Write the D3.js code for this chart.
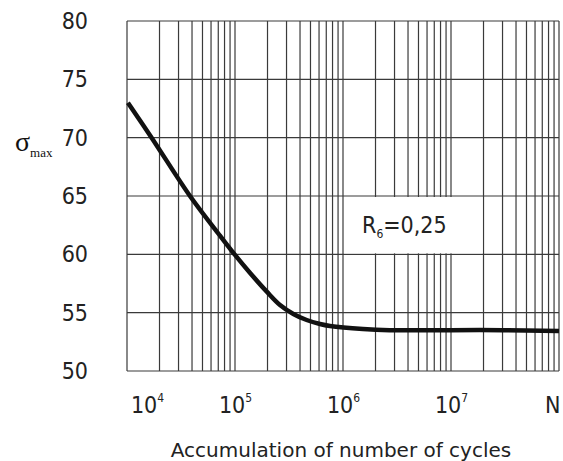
<!DOCTYPE html>
<html>
<head>
<meta charset="utf-8">
<script src="https://cdn.jsdelivr.net/npm/d3@7"></script>
<style>
  body { margin: 0; background: #fff; }
  .num { font-family: "Liberation Sans Narrow", "DejaVu Sans Condensed", "Liberation Sans", sans-serif; fill: #222; }
</style>
</head>
<body>
<svg id="chart"></svg>
<script>
// curve
var cycles = [1.02e4, 1.69e4, 3.83e4, 7.26e4, 1.0e5, 1.38e5, 1.97e5, 2.61e5, 3.47e5, 4.61e5, 6.12e5, 7.58e5, 1.53e6, 2.7e6, 1.0e7, 3.0e7, 1.0e8];
var sigma  = [73.0, 70.0, 65.0, 61.6, 59.95, 58.4, 56.8, 55.66, 54.89, 54.37, 54.03, 53.86, 53.6, 53.5, 53.5, 53.5, 53.42];

var yTicks = [50, 55, 60, 65, 70, 75, 80];
var xTicks = [1e4, 1e5, 1e6, 1e7, 1e8];
var xTickBase = ["10", "10", "10", "10", "N"];
var xTickExp = ["4", "5", "6", "7", ""];
var decades = [1e4, 1e5, 1e6, 1e7];
var minor = [1, 2, 3, 4, 5, 6, 7, 8, 9];

var margin = {top: 21, right: 4, bottom: 90, left: 127},
    width = 563 - margin.left - margin.right,
    height = 461 - margin.top - margin.bottom;

var root = d3.select("#chart")
    .attr("width", 563)
    .attr("height", 461);

var svg = root.append("g")
    .attr("transform", "translate(" + margin.left + "," + margin.top + ")");

var x = d3.scaleLog()
    .domain([1e4, 1e8])
    .range([0, width]);

var y = d3.scaleLinear()
    .domain([50, 80])
    .range([height, 0]);

// grid
var vlines = [];
decades.forEach(function(d) { minor.forEach(function(m) { vlines.push(d * m); }); });
vlines.push(1e8);

svg.append("g").selectAll("line.v")
    .data(vlines)
  .enter().append("line")
    .attr("x1", function(d) { return x(d); })
    .attr("x2", function(d) { return x(d); })
    .attr("y1", 0)
    .attr("y2", height)
    .style("stroke", "#3a3a3a")
    .style("stroke-width", 1.2);

svg.append("g").selectAll("line.h")
    .data(yTicks)
  .enter().append("line")
    .attr("x1", 0)
    .attr("x2", width)
    .attr("y1", function(d) { return y(d); })
    .attr("y2", function(d) { return y(d); })
    .style("stroke", "#3a3a3a")
    .style("stroke-width", 1.2);

// blank cell behind the annotation
svg.append("rect")
    .attr("x", x(1e6) + 1)
    .attr("y", y(65) + 1)
    .attr("width", x(2e7) - x(1e6) - 2)
    .attr("height", y(60) - y(65) - 2)
    .style("fill", "#fff");

// curve
var line = d3.line()
    .x(function(d, i) { return x(cycles[i]); })
    .y(function(d) { return y(d); })
    .curve(d3.curveCatmullRom.alpha(0.5));

svg.append("path")
    .datum(sigma)
    .attr("d", line)
    .style("fill", "none")
    .style("stroke", "#111")
    .style("stroke-width", 4.5);

// Y axis labels
var yAxis = svg.append("g")
    .call(d3.axisLeft(y).tickValues(yTicks).tickSize(0).tickPadding(39));
yAxis.select(".domain").remove();
yAxis.selectAll("text")
    .attr("class", "num")
    .attr("dy", "0.33em")
    .style("font-size", "23px");

// X axis labels
var xAxis = svg.append("g")
    .attr("transform", "translate(0," + height + ")")
    .call(d3.axisBottom(x).tickValues(xTicks).tickSize(0).tickPadding(0));
xAxis.select(".domain").remove();
xAxis.selectAll("text")
    .attr("class", "num")
    .attr("y", 42)
    .attr("dy", 0)
    .style("font-size", "23px")
    .each(function(d, i) {
      var t = d3.select(this).text("");
      t.append("tspan").text(xTickBase[i]);
      if (xTickExp[i]) {
        t.append("tspan").attr("dy", -11).style("font-size", "12px").text(xTickExp[i]);
      }
      if (i == 0) t.attr("dx", 20);
      if (i == xTicks.length - 1) t.attr("text-anchor", "end").attr("dx", 1);
    });

// annotation
var note = svg.append("text")
    .attr("class", "num")
    .attr("x", x(3.7e6))
    .attr("y", y(61.83))
    .style("text-anchor", "middle")
    .style("font-size", "23px");
note.append("tspan").text("R");
note.append("tspan").attr("dy", 5).style("font-size", "12px").text("6");
note.append("tspan").attr("dy", -5).text("=0,25");

// axis titles
var yTitle = root.append("text")
    .attr("x", 15)
    .attr("y", 151)
    .style("font-family", "'Liberation Serif', 'Times New Roman', serif")
    .style("fill", "#111");
yTitle.append("tspan").style("font-size", "28px").text("σ");
yTitle.append("tspan").attr("dy", 6).style("font-size", "13px").text("max");

root.append("text")
    .attr("x", 341)
    .attr("y", 457)
    .style("text-anchor", "middle")
    .style("font-family", "'DejaVu Sans', Verdana, sans-serif")
    .style("font-size", "20px")
    .style("fill", "#222")
    .text("Accumulation of number of cycles");
</script>
</body>
</html>
